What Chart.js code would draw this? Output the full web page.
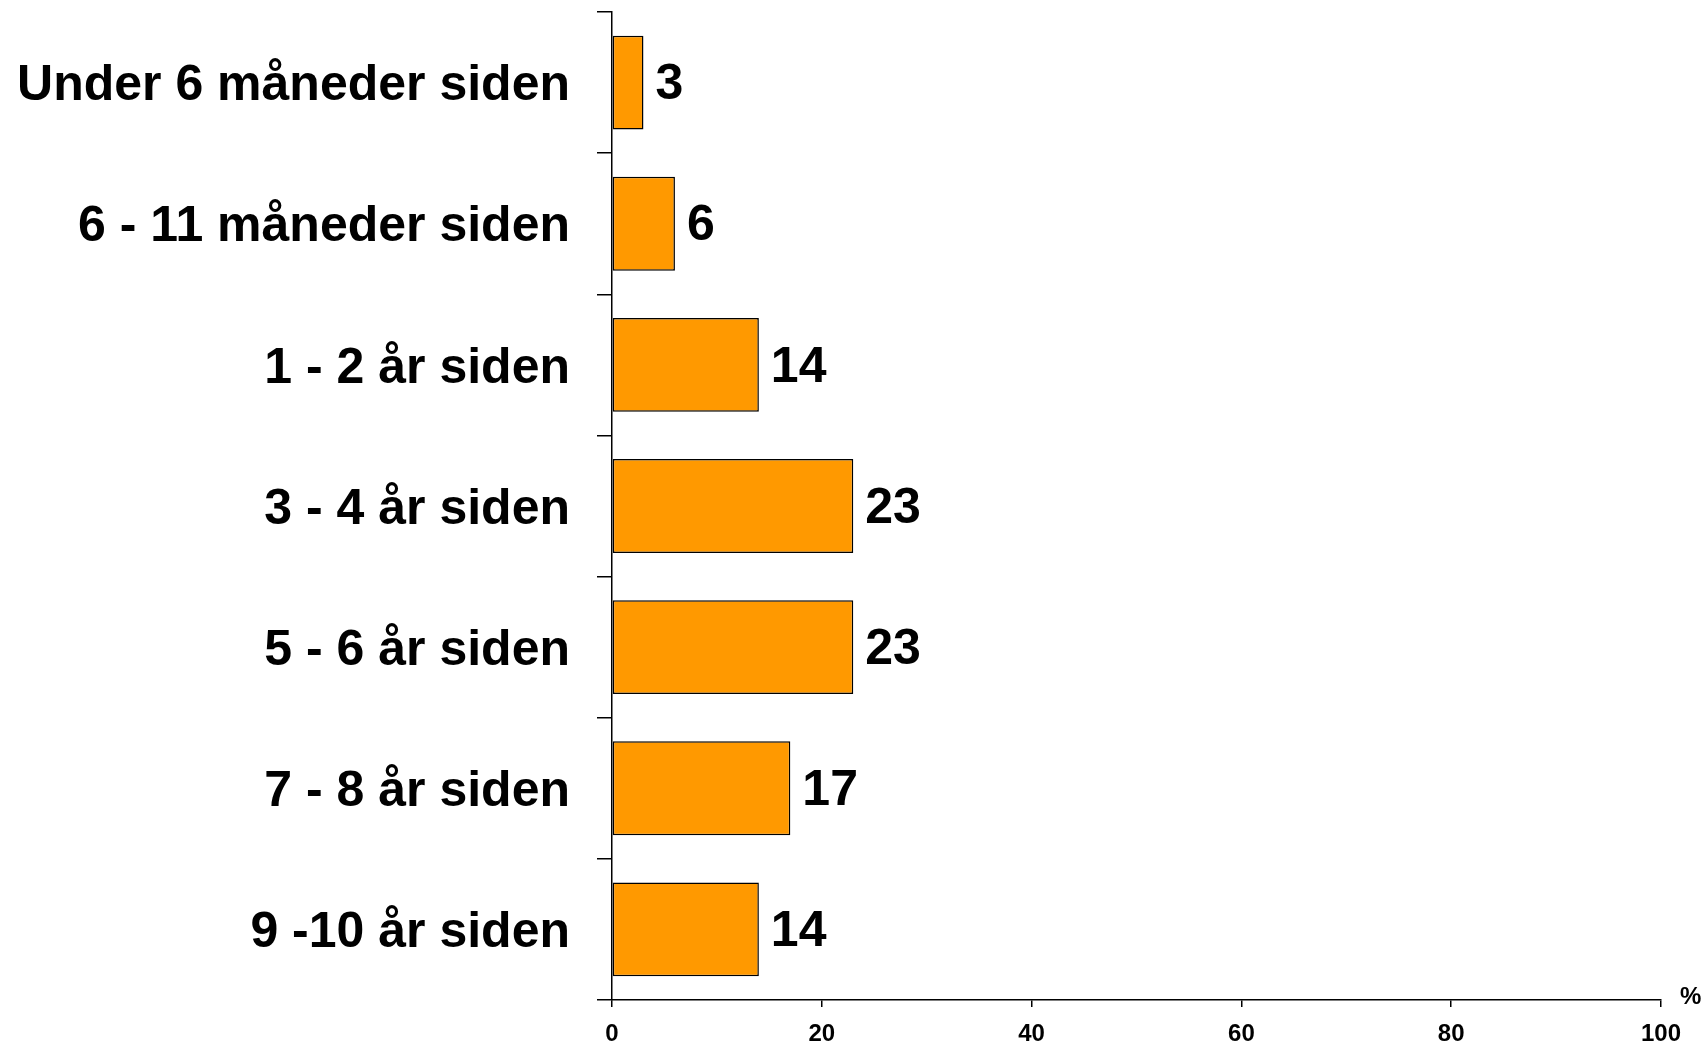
<!DOCTYPE html>
<html>
<head>
<meta charset="utf-8">
<script src="https://cdn.jsdelivr.net/npm/chart.js@4/dist/chart.umd.min.js"></script>
<style>
  html, body { margin: 0; padding: 0; background: #ffffff; }
  #wrap { width: 1706px; height: 1046px; position: relative; }
</style>
</head>
<body>
<div id="wrap"><canvas id="c" width="1706" height="1046"></canvas></div>
<script>
const categories = [
  "Under 6 måneder siden",
  "6 - 11 måneder siden",
  "1 - 2 år siden",
  "3 - 4 år siden",
  "5 - 6 år siden",
  "7 - 8 år siden",
  "9 -10 år siden"
];
const values = [3, 6, 14, 23, 23, 17, 14];
const xTicks = [0, 20, 40, 60, 80, 100];
const unitLabel = "%";

const FONT = "'Liberation Sans', Arial, Helvetica, sans-serif";

const valueLabels = {
  id: 'valueLabels',
  afterDatasetsDraw(chart) {
    const ctx = chart.ctx;
    const meta = chart.getDatasetMeta(0);
    ctx.save();
    ctx.font = "bold 50px " + FONT;
    ctx.fillStyle = "#000000";
    ctx.textAlign = "left";
    ctx.textBaseline = "middle";
    meta.data.forEach((bar, i) => {
      ctx.fillText(String(values[i]), bar.x + 12, bar.y + 3);
    });
    ctx.restore();
  }
};

const unitPlugin = {
  id: 'unitPlugin',
  afterDraw(chart) {
    const ctx = chart.ctx;
    const area = chart.chartArea;
    ctx.save();
    ctx.font = "bold 24px " + FONT;
    ctx.fillStyle = "#000000";
    ctx.textAlign = "left";
    ctx.textBaseline = "middle";
    ctx.fillText(unitLabel, area.right + 19, area.bottom - 3);
    ctx.restore();
  }
};

new Chart(document.getElementById('c'), {
  type: 'bar',
  data: {
    labels: categories,
    datasets: [{
      data: values,
      backgroundColor: '#FF9900',
      borderColor: '#000000',
      borderWidth: 1.5,
      borderSkipped: false,
      categoryPercentage: 1.0,
      barPercentage: 0.665
    }]
  },
  options: {
    indexAxis: 'y',
    responsive: false,
    animation: false,
    devicePixelRatio: 1,
    layout: { padding: { top: 12, right: 45, left: 0, bottom: 0 } },
    plugins: {
      legend: { display: false },
      tooltip: { enabled: false }
    },
    scales: {
      x: {
        type: 'linear',
        min: 0,
        max: 100,
        afterBuildTicks(scale) {
          scale.ticks = xTicks.map(v => ({ value: v }));
        },
        afterFit(scale) {
          scale.height = 46;
          scale.paddingLeft = 0; scale.paddingRight = 0;
          scale.paddingTop = 0; scale.paddingBottom = 0;
        },
        grid: {
          drawOnChartArea: false,
          drawTicks: true,
          tickLength: 7,
          color: '#000000',
          lineWidth: 1.5
        },
        border: { display: true, color: '#000000', width: 1.5 },
        ticks: {
          color: '#000000',
          font: { family: FONT, size: 24, weight: 'bold' },
          padding: 13,
          maxRotation: 0,
          autoSkip: false
        }
      },
      y: {
        type: 'category',
        afterFit(scale) {
          scale.width = 612;
          scale.paddingTop = 0; scale.paddingBottom = 0;
          scale.paddingLeft = 0; scale.paddingRight = 0;
        },
        grid: {
          offset: true,
          drawOnChartArea: false,
          drawTicks: true,
          tickLength: 15,
          color: '#000000',
          lineWidth: 1.5
        },
        border: { display: true, color: '#000000', width: 1.5 },
        ticks: {
          color: '#000000',
          font: { family: FONT, size: 50, weight: 'bold' },
          padding: 27,
          labelOffset: 4,
          autoSkip: false
        }
      }
    }
  },
  plugins: [valueLabels, unitPlugin]
});
</script>
</body>
</html>
